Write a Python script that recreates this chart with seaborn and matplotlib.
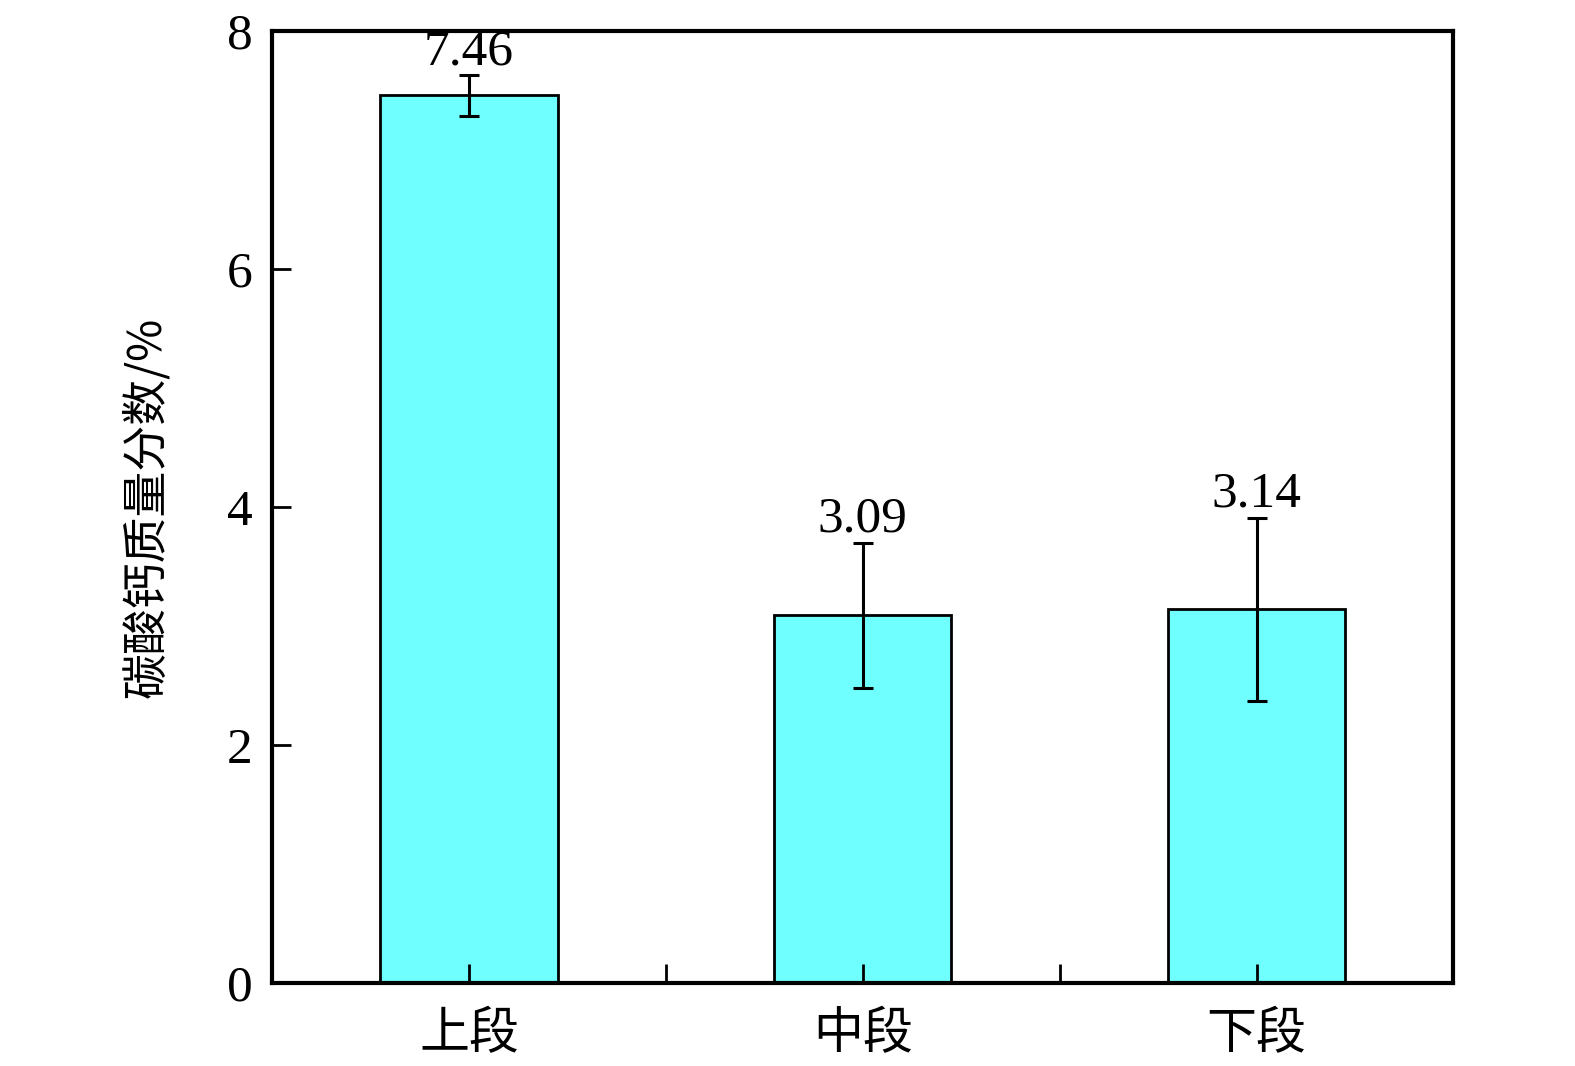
import matplotlib
matplotlib.use("Agg")
import matplotlib.pyplot as plt
import seaborn as sns
import pandas as pd
import numpy as np

categories = ["上段", "中段", "下段"]
values = [7.46, 3.09, 3.14]
errors = [0.17, 0.61, 0.77]
value_labels = ["7.46", "3.09", "3.14"]
yticks = [0, 2, 4, 6, 8]

sns.set_theme(style="white")
plt.rcParams['font.family'] = ['Liberation Serif', 'Noto Sans CJK SC']
plt.rcParams['axes.unicode_minus'] = False

df = pd.DataFrame({"段": categories, "值": values})

fig = plt.figure(figsize=(15.75, 10.66), dpi=100)
ax = fig.add_axes([0.1728, 0.0782, 0.75, 0.8926])

sns.barplot(data=df, x="段", y="值", order=categories, color="#70FFFF",
            saturation=1, width=0.45, edgecolor="black", linewidth=2,
            errorbar=None, ax=ax)
xs = np.arange(len(categories))
ax.errorbar(xs, values, yerr=errors, fmt="none", ecolor="black",
            elinewidth=2.2, capsize=7, capthick=2.2, zorder=4)
for x, v, e, lab in zip(xs, values, errors, value_labels):
    ax.annotate(lab, xy=(x, v + e), xytext=(0, 8), textcoords="offset points",
                ha="center", va="baseline", fontsize=37, color="black",
                family="Liberation Serif")

ax.set_axisbelow(False)
ax.set_xlim(-0.5, 2.5)
ax.set_ylim(0, 8)
ax.set_yticks(yticks)
ax.set_yticklabels([str(t) for t in yticks], fontsize=37, family="Liberation Serif")
ax.set_xticks(xs)
ax.set_xticks([0.5, 1.5], minor=True)
ax.set_xticklabels(categories, fontsize=36, family="Noto Sans CJK SC")
ax.tick_params(axis="x", which="both", direction="in", length=14, width=2,
               bottom=True, top=False, pad=18, colors="black")
ax.tick_params(axis="y", which="both", direction="in", length=14, width=2,
               left=True, right=False, pad=14, colors="black")
ax.set_xlabel("")
ax.set_ylabel("碳酸钙质量分数/%", fontsize=33, family=["Noto Sans CJK SC", "Liberation Serif"],
              labelpad=40, color="black")
for s in ax.spines.values():
    s.set_visible(True)
    s.set_color("black")
    s.set_linewidth(3)

fig.savefig("out.png", dpi=100, facecolor="white")
